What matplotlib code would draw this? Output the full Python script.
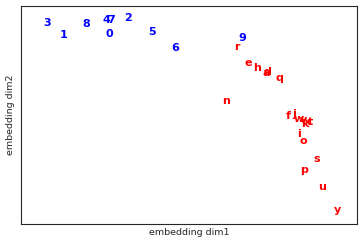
import matplotlib
matplotlib.use("Agg")
import matplotlib.pyplot as plt
import seaborn as sns

# digit tokens (blue)
digits = ['3', '1', '8', '4', '7', '0', '2', '5', '6', '9']
digit_x = [-0.502, -0.426, -0.328, -0.234, -0.216, -0.221, -0.140, -0.033, 0.070, 0.373]
digit_y = [0.472, 0.394, 0.465, 0.491, 0.491, 0.401, 0.504, 0.414, 0.311, 0.375]

# letter tokens (red)
letters = ['r', 'e', 'h', 'a', 'd', 'q', 'n', 'f', 'j', 'w', 'v', 'k', 'x', 't',
           'i', 'o', 's', 'p', 'u', 'y']
letter_x = [0.351, 0.400, 0.436, 0.478, 0.484, 0.538, 0.297, 0.583, 0.610, 0.619,
            0.645, 0.650, 0.663, 0.681, 0.632, 0.645, 0.708, 0.645, 0.726, 0.797]
letter_y = [0.317, 0.215, 0.183, 0.150, 0.157, 0.120, -0.030, -0.125, -0.113, -0.145,
            -0.150, -0.175, -0.168, -0.162, -0.240, -0.285, -0.400, -0.475, -0.585, -0.730]

sns.set_style("white")

fig = plt.figure(figsize=(3.63, 2.45), dpi=100)
ax = fig.add_axes([0.058, 0.086, 0.925, 0.89])

for lab, x, y in zip(digits, digit_x, digit_y):
    ax.text(x, y, lab, color='blue', fontsize=8, fontweight='bold')
for lab, x, y in zip(letters, letter_x, letter_y):
    ax.text(x, y, lab, color='red', fontsize=8, fontweight='bold')

ax.set_xlim(-0.6, 0.9)
ax.set_ylim(-0.8, 0.6)
ax.set_xticks([])
ax.set_yticks([])
ax.set_xlabel('embedding dim1', fontsize=6.8, labelpad=3)
ax.set_ylabel('embedding dim2', fontsize=6.8, labelpad=4)
for s in ax.spines.values():
    s.set_linewidth(0.8)

fig.savefig('out.png', dpi=100)
